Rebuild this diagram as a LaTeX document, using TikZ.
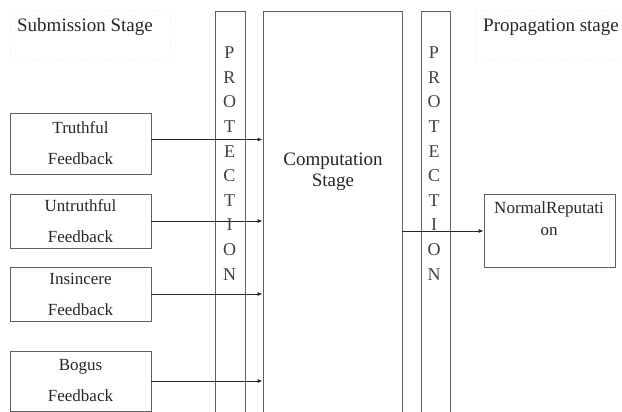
\documentclass[tikz,border=0pt]{standalone}
\usepackage{fontspec}
\setmainfont{Liberation Serif}
\usetikzlibrary{positioning,arrows.meta}

\begin{document}
\begin{tikzpicture}[x=1pt,y=-1pt]
    \tikzset{
        fbbox/.style={draw=gray!75!black, line width=0.9pt, minimum width=141pt,
            align=center, text=black!85, font=\fontsize{17}{31}\selectfont},
        tallbox/.style={draw=gray!75!black, line width=0.9pt, minimum height=420pt, anchor=north},
        titlebox/.style={draw=gray!12, dotted, minimum height=50pt},
        titletext/.style={text=black!85, font=\fontsize{19}{22}\selectfont},
        protext/.style={align=center, text=black!75, font=\fontsize{18}{24.6}\selectfont},
        conn/.style={draw=black!85, line width=0.8pt, -{Latex[length=5pt,width=4pt]}}
    }

    \useasboundingbox (0,0) rectangle (622,412);
    \clip (0,0) rectangle (622,412);

    % stage titles
    \node[titlebox, minimum width=160pt] (subbox) at (90,35) {};
    \node[titletext] (subtitle) at (85,27) {Submission Stage};
    \node[titlebox, minimum width=156pt] (propbox) at (554,35) {};
    \node[titletext] (proptitle) at (551,27) {Propagation stage};

    % protection bars and computation
    \node[tallbox, minimum width=30pt] (prot1) at (230,11) {};
    \node[protext] (prot1txt) at (229.5,163.5) {P\\R\\O\\T\\E\\C\\T\\I\\O\\N};
    \node[tallbox, minimum width=139pt] (comp) at (332.5,11) {};
    \node[protext, text=black!85, font=\fontsize{19}{21}\selectfont] (comptxt) at (333,172) {Computation\\Stage};
    \node[tallbox, minimum width=29pt] (prot2) at (435.5,11) {};
    \node[protext] (prot2txt) at (434,163.5) {P\\R\\O\\T\\E\\C\\T\\I\\O\\N};

    % feedback types
    \node[fbbox, minimum height=61pt] (truthful) at (80.5,143.5) {Truthful\\Feedback};
    \node[fbbox, minimum height=54pt] (untruthful) at (80.5,221) {Untruthful\\Feedback};
    \node[fbbox, minimum height=54pt] (insincere) at (80.5,294) {Insincere\\Feedback};
    \node[fbbox, minimum height=60pt] (bogus) at (80.5,381) {Bogus\\Feedback};

    % output
    \node[fbbox, minimum width=131pt, minimum height=73pt] (normal) at (549.5,231) {};
    \node[protext, text=black!85, font=\fontsize{17}{22}\selectfont] (normtxt) at (549,219) {NormalReputati\\on};

    \draw[conn] ([yshift=4pt]truthful.east) -- ([yshift=4pt]truthful.east -| comp.west);
    \foreach \fb in {untruthful,insincere,bogus}
        \draw[conn] (\fb.east) -- (\fb.east -| comp.west);
    \draw[conn] (comp.east |- normal.west) -- (normal.west);

\end{tikzpicture}
\end{document}
